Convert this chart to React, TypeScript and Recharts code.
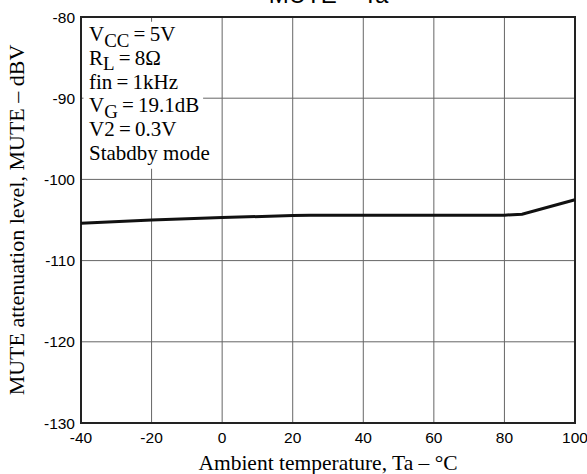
import React from 'react';
import { LineChart, Line, XAxis, YAxis, CartesianGrid, ReferenceArea, Label } from 'recharts';

const temps = [-40, -20, 0, 20, 25, 40, 60, 80, 85, 100];
const muteLevel = [-105.4, -105.0, -104.7, -104.45, -104.4, -104.4, -104.4, -104.4, -104.3, -102.5];
const xTicks = [-40, -20, 0, 20, 40, 60, 80, 100];
const yTicks = [-130, -120, -110, -100, -90, -80];
const data = temps.map((t, i) => ({ ta: t, mute: muteLevel[i] }));

const serif = '"Liberation Serif", "Times New Roman", serif';
const sans = '"Liberation Sans", Arial, sans-serif';
const EQ = '\u2009=\u2009';

const Sub = ({ children }: { children: React.ReactNode }) => (
  <span style={{ fontSize: '0.9em', position: 'relative', top: '0.3em', lineHeight: 0 }}>{children}</span>
);

const rowStyle: React.CSSProperties = { height: 23.8, lineHeight: '23.8px' };

export default function App() {
  return (
    <div style={{ position: 'absolute', left: 0, top: 0, width: 587, height: 474, background: '#fff' }}>
      <LineChart width={587} height={474} data={data} margin={{ top: 17, right: 12, left: 0, bottom: 0 }}>
        <CartesianGrid stroke="#666" strokeWidth={1} horizontalValues={yTicks} verticalValues={xTicks} />
        <XAxis
          type="number"
          dataKey="ta"
          domain={[-40, 100]}
          ticks={xTicks}
          axisLine={false}
          tickLine={false}
          height={51}
          tickMargin={3}
          tick={{ fill: '#000', fontSize: 15.5, fontFamily: sans }}
          interval={0}
        >
          <Label value="Ambient temperature, Ta – °C" position="insideBottom" offset={4} style={{ fill: '#000', fontSize: 21.5, fontFamily: serif }} />
        </XAxis>
        <YAxis
          type="number"
          domain={[-130, -80]}
          ticks={yTicks}
          axisLine={false}
          tickLine={false}
          width={81}
          tickMargin={0}
          tick={{ fill: '#000', fontSize: 15.5, fontFamily: sans }}
          interval={0}
        >
          <Label value="MUTE attenuation level, MUTE – dBV" angle={-90} position="insideLeft" offset={16} style={{ fill: '#000', fontSize: 22, fontFamily: serif, textAnchor: 'middle' }} />
        </YAxis>
        <ReferenceArea x1={-39.3} x2={-5.4} y1={-98.7} y2={-80.6} fill="#fff" fillOpacity={1} stroke="none" />
        <ReferenceArea x1={-40} x2={100} y1={-130} y2={-80} fill="none" stroke="#222" strokeWidth={2} />
        <Line type="linear" dataKey="mute" stroke="#111" strokeWidth={3} dot={false} isAnimationActive={false} />
      </LineChart>
      <div style={{ position: 'absolute', left: 0, top: -17, width: 587, textAlign: 'center', paddingLeft: 70, boxSizing: 'border-box', fontFamily: sans, fontSize: 24, color: '#000', lineHeight: '24px' }}>
        MUTE – Ta
      </div>
      <div style={{ position: 'absolute', left: 89, top: 23, fontFamily: serif, fontSize: 21, color: '#000', whiteSpace: 'nowrap' }}>
        <div style={rowStyle}>V<Sub>CC</Sub>{EQ}5V</div>
        <div style={rowStyle}>R<Sub>L</Sub>{EQ}8Ω</div>
        <div style={rowStyle}>fin{EQ}1kHz</div>
        <div style={rowStyle}>V<Sub>G</Sub>{EQ}19.1dB</div>
        <div style={rowStyle}>V2{EQ}0.3V</div>
        <div style={rowStyle}>Stabdby mode</div>
      </div>
    </div>
  );
}
